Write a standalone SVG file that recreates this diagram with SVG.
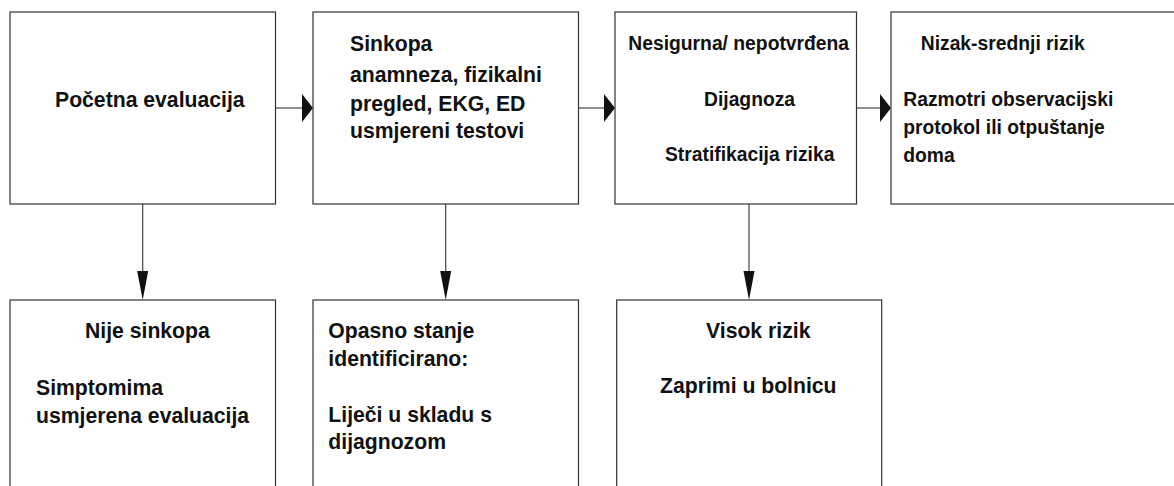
<svg xmlns="http://www.w3.org/2000/svg" width="1174" height="486" viewBox="0 0 1174 486">
<style>
.box{fill:#fff;stroke:#333;stroke-width:1.2}
.t{font-family:"Liberation Sans",Arial,sans-serif;font-weight:bold;font-size:21.2px;fill:#111}
.s{font-size:19.3px}
.ln{stroke:#444;stroke-width:1.2;fill:none}
.ah{fill:#111}
</style>
<rect width="1174" height="486" fill="#fff"/>
<g id="connectors">
<line class="ln" x1="275.5" y1="108" x2="302" y2="108"/>
<polygon class="ah" points="302,94 313,108 302,122"/>
<line class="ln" x1="578.5" y1="108" x2="605" y2="108"/>
<polygon class="ah" points="604,94 615,108 604,122"/>
<line class="ln" x1="856.5" y1="108" x2="881" y2="108"/>
<polygon class="ah" points="880,94 891,108 880,122"/>
<line class="ln" x1="142.7" y1="204" x2="142.7" y2="272"/>
<polygon class="ah" points="137.2,271 148.2,271 142.7,300"/>
<line class="ln" x1="445.7" y1="204" x2="445.7" y2="272"/>
<polygon class="ah" points="440.2,271 451.2,271 445.7,300"/>
<line class="ln" x1="749" y1="204" x2="749" y2="272"/>
<polygon class="ah" points="743.5,271 754.5,271 749,300"/>
</g>
<g id="n1">
<rect class="box" x="10" y="12" width="265.5" height="192"/>
<text class="t" transform="translate(55 106.7) scale(1 1.06)">Početna evaluacija</text>
</g>
<g id="n2">
<rect class="box" x="313" y="12" width="265.5" height="192"/>
<text class="t" transform="translate(350 50.7) scale(1 1.06)">Sinkopa</text>
<text class="t" transform="translate(350 82.3) scale(1 1.06)">anamneza, fizikalni</text>
<text class="t" transform="translate(350 110.7) scale(1 1.06)">pregled, EKG, ED</text>
<text class="t" transform="translate(350 138.3) scale(1 1.06)">usmjereni testovi</text>
</g>
<g id="n3">
<rect class="box" x="615" y="12" width="241.5" height="192"/>
<text class="t s" transform="translate(628.3 50) scale(1 1.06)">Nesigurna/ nepotvrđena</text>
<text class="t s" transform="translate(704 106) scale(1 1.06)">Dijagnoza</text>
<text class="t s" transform="translate(665 161) scale(1 1.06)">Stratifikacija rizika</text>
</g>
<g id="n4">
<rect class="box" x="891" y="12" width="290" height="192"/>
<text class="t s" transform="translate(920.7 50) scale(1 1.06)">Nizak-srednji rizik</text>
<text class="t s" transform="translate(903.3 106) scale(1 1.06)">Razmotri observacijski</text>
<text class="t s" transform="translate(903.3 134) scale(1 1.06)">protokol ili otpuštanje</text>
<text class="t s" transform="translate(903.3 161.7) scale(1 1.06)">doma</text>
</g>
<g id="n5">
<rect class="box" x="10" y="300" width="265.5" height="200"/>
<text class="t" transform="translate(85 338.3) scale(1 1.06)">Nije sinkopa</text>
<text class="t" transform="translate(36 395) scale(1 1.06)">Simptomima</text>
<text class="t" transform="translate(36 422.7) scale(1 1.06)">usmjerena evaluacija</text>
</g>
<g id="n6">
<rect class="box" x="313" y="300" width="265.5" height="200"/>
<text class="t" transform="translate(328.3 337.7) scale(1 1.06)">Opasno stanje</text>
<text class="t" transform="translate(328.3 366) scale(1 1.06)">identificirano:</text>
<text class="t" transform="translate(328.3 421.7) scale(1 1.06)">Liječi u skladu s</text>
<text class="t" transform="translate(328.3 449.3) scale(1 1.06)">dijagnozom</text>
</g>
<g id="n7">
<rect class="box" x="616.7" y="300" width="265" height="200"/>
<text class="t" transform="translate(706 338.3) scale(1 1.06)">Visok rizik</text>
<text class="t" transform="translate(660 393.3) scale(1 1.06)">Zaprimi u bolnicu</text>
</g>
</svg>
